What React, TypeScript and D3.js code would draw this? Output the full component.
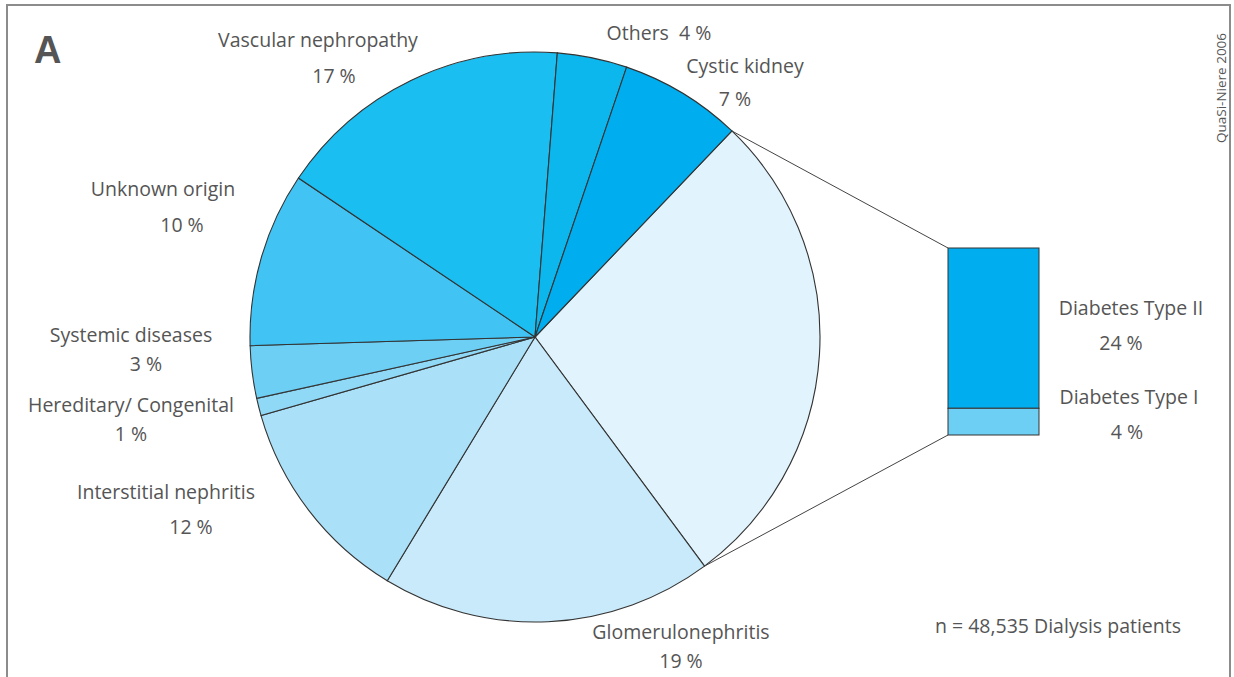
import React from "react";
import * as d3 from "d3";

// Causes of end-stage renal disease among dialysis patients (percent)
const causes = [
  "Diabetes",
  "Glomerulonephritis",
  "Interstitial nephritis",
  "Hereditary/ Congenital",
  "Systemic diseases",
  "Unknown origin",
  "Vascular nephropathy",
  "Others",
  "Cystic kidney",
];
const shares = [28, 19, 12, 1, 3, 10, 17, 4, 7];
const sliceColors = [
  "#e1f3fc",
  "#c8eafa",
  "#abe1f8",
  "#8fd8f6",
  "#6dcff4",
  "#41c4f3",
  "#1bbef0",
  "#0cb7ee",
  "#00aeef",
];

// Breakdown of the diabetes slice
const diabetesTypes = ["Diabetes Type II", "Diabetes Type I"];
const diabetesShares = [24, 4];
const diabetesColors = ["#00aeef", "#6dcff4"];

const W = 1234;
const H = 677;
const cx = 535;
const cy = 337;
const R = 285;
const startDeg = 43.7;

const FONT = "'Open Sans', sans-serif";
const TEXT = "#555555";
const FS = 19.5;

type Lbl = { name: string; value: string; x: number; y: number; vx: number; vy: number };
const sliceLabels: Lbl[] = [
  { name: "Vascular nephropathy", value: "17 %", x: 318, y: 47, vx: 334, vy: 83 },
  { name: "Cystic kidney", value: "7 %", x: 745, y: 73, vx: 735, vy: 106 },
  { name: "Unknown origin", value: "10 %", x: 163, y: 196, vx: 182, vy: 232 },
  { name: "Systemic diseases", value: "3 %", x: 131, y: 342, vx: 146, vy: 371 },
  { name: "Hereditary/ Congenital", value: "1 %", x: 131, y: 412, vx: 131, vy: 441 },
  { name: "Interstitial nephritis", value: "12 %", x: 166, y: 499, vx: 191, vy: 534 },
  { name: "Glomerulonephritis", value: "19 %", x: 681, y: 639, vx: 681, vy: 668 },
  { name: "Diabetes Type II", value: "24 %", x: 1131, y: 315, vx: 1121, vy: 350 },
  { name: "Diabetes Type I", value: "4 %", x: 1129, y: 404, vx: 1127, vy: 439 },
];

export default function App() {
  const toRad = (d: number) => (d * Math.PI) / 180;
  const pie = d3
    .pie<number>()
    .sort(null)
    .startAngle(toRad(startDeg))
    .endAngle(toRad(startDeg + 360));
  const arcs = pie(shares);
  const arc = d3.arc<d3.PieArcDatum<number>>().innerRadius(0).outerRadius(R);

  // Points where the diabetes slice meets the rim
  const dia = arcs[0];
  const rimPt = (a: number) => [cx + R * Math.sin(a), cy - R * Math.cos(a)];
  const [ax, ay] = rimPt(dia.startAngle);
  const [bx, by] = rimPt(dia.endAngle);

  // Stacked bar for the diabetes breakdown
  const barX = 948;
  const barW = 91;
  const barTop = 248;
  const barBottom = 435;
  const total = d3.sum(diabetesShares);
  const yScale = d3.scaleLinear().domain([0, total]).range([barTop, barBottom]);
  let acc = 0;
  const segments = diabetesShares.map((v, i) => {
    const y0 = yScale(acc);
    acc += v;
    const y1 = yScale(acc);
    return { y0, y1, color: diabetesColors[i], key: diabetesTypes[i] };
  });

  return (
    <svg
      width={W}
      height={H}
      style={{ position: "fixed", left: 0, top: 0, background: "#fff" }}
      fontFamily={FONT}
    >
      <rect x={7} y={5} width={1223} height={H + 10} fill="none" stroke="#8c8c8c" strokeWidth={2} />

      <text x={34} y={63} fontSize={38} fontWeight={700} fill="#555" fontFamily="'Liberation Sans', Arial, sans-serif">
        A
      </text>

      <g transform={`translate(${cx},${cy})`}>
        {arcs.map((a, i) => (
          <path key={causes[i]} d={arc(a) || ""} fill={sliceColors[i]} stroke="#333" strokeWidth={1.1} />
        ))}
      </g>

      <line x1={ax} y1={ay} x2={barX} y2={barTop} stroke="#444" strokeWidth={1} />
      <line x1={bx} y1={by} x2={barX} y2={barBottom} stroke="#444" strokeWidth={1} />

      {segments.map((s) => (
        <rect
          key={s.key}
          x={barX}
          y={s.y0}
          width={barW}
          height={s.y1 - s.y0}
          fill={s.color}
          stroke="#333"
          strokeWidth={1}
        />
      ))}

      {sliceLabels.map((l) => (
        <g key={l.name} fill={TEXT} fontSize={FS} textAnchor="middle">
          <text x={l.x} y={l.y}>{l.name}</text>
          <text x={l.vx} y={l.vy}>{l.value}</text>
        </g>
      ))}

      <text x={659} y={40} fill={TEXT} fontSize={FS} textAnchor="middle" style={{ whiteSpace: "pre" }}>
        {"Others  4 %"}
      </text>

      <text x={1058} y={633} fill={TEXT} fontSize={FS} textAnchor="middle">
        n = 48,535 Dialysis patients
      </text>

      <text
        transform="translate(1226,88) rotate(-90)"
        fill={TEXT}
        fontSize={13.5}
        textAnchor="middle"
      >
        QuaSi-Niere 2006
      </text>
    </svg>
  );
}
